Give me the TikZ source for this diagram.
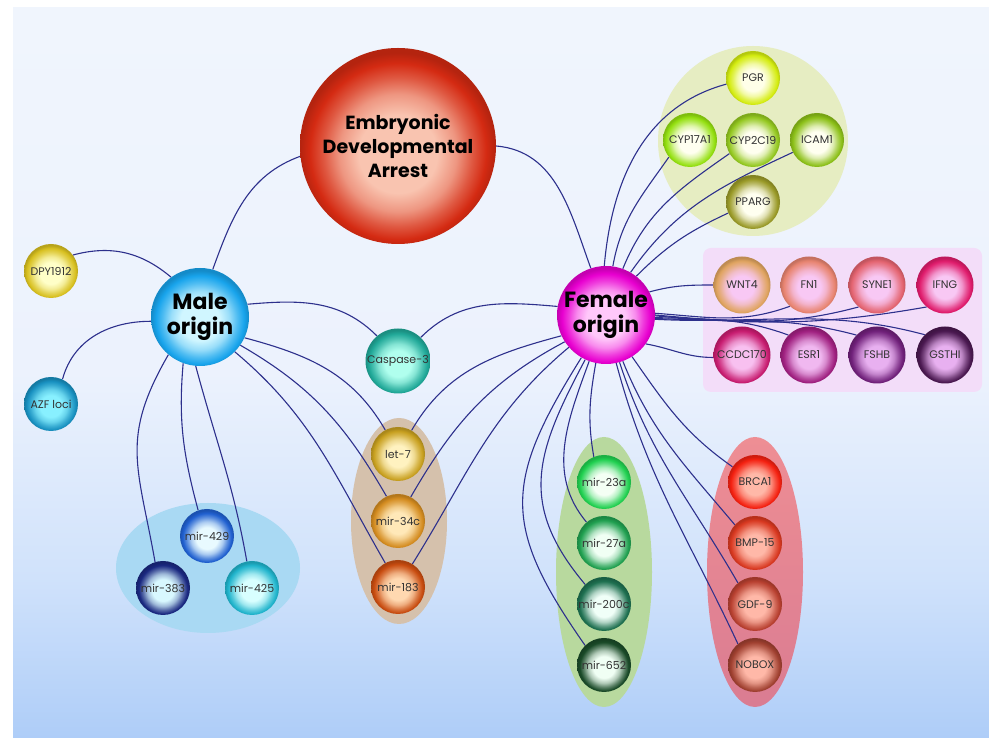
\documentclass[tikz,border=0pt]{standalone}
\usepackage{fontspec}
\setmainfont{Poppins}
\usepackage{xcolor}
\usepackage{tikz}
\usetikzlibrary{shapes.geometric}

\pgfdeclarelayer{back}
\pgfdeclarelayer{links}
\pgfsetlayers{back,links,main}

\definecolor{ballin}{HTML}{FFFFFF}
\definecolor{ballout}{HTML}{000000}
\definecolor{paneltop}{HTML}{F0F5FD}
\definecolor{panelmid}{HTML}{ECF2FD}
\definecolor{panellow}{HTML}{D0E2FB}
\definecolor{panelbot}{HTML}{AECDF8}
% sphere shading, rebuilt from ballin and ballout every time it is used
\pgfdeclareradialshading[ballin,ballout]{sphere}{\pgfpoint{0bp}{-2.5bp}}{%
    color(0bp)=(ballin); color(10bp)=(ballin); color(15bp)=(ballin!70!ballout);
    color(19bp)=(ballin!30!ballout); color(22.5bp)=(ballout); color(25bp)=(ballout!85!black);
    color(50bp)=(ballout!85!black)}
% background of the panel
\pgfdeclareverticalshading{panel}{100bp}{%
    color(0bp)=(panelbot); color(25bp)=(panelbot); color(36bp)=(panellow);
    color(50bp)=(panelmid); color(75bp)=(paneltop); color(100bp)=(paneltop)}

\begin{document}
\begin{tikzpicture}[
    % GLOBAL CFG
    x=1pt, y=1pt,
    font=\fontsize{11}{13}\selectfont,
    % Styles
    bin/.code={\definecolor{ballin}{HTML}{#1}},% centre colour of a sphere
    bout/.code={\definecolor{ballout}{HTML}{#1}},% rim colour of a sphere
    ball/.style={% For the shaded spheres
        circle,
        minimum size=54pt,
        inner sep=0pt,
        text=black!80,
        shading=sphere,
        },
    hub/.style={% For the two origins
        minimum size=98pt,
        align=center,
        text=black,
        font=\bfseries\fontsize{22}{25}\selectfont,
        },
    group/.style={% For the coloured areas behind the spheres
        inner sep=0pt,
        draw=none,
        },
    link/.style={% For the connectors
        draw={rgb,255:red,45;green,48;blue,140},
        line width=1.1pt,
        },
    ]

\useasboundingbox (0,0) rectangle (989,738);

%Start drawing the thing...
    \begin{pgfonlayer}{back}
    % Panel
    \node [group, rectangle, minimum width=976pt, minimum height=730pt, shading=panel] (panel) at (501,365) {};

    % Areas named g#
    \node [group, circle, minimum size=190pt, fill={rgb,255:red,230;green,237;blue,194}] (g1) at (753,597) {}; % genes on top
    \node [group, rectangle, rounded corners=8pt, minimum width=279pt, minimum height=144pt,
        fill={rgb,255:red,243;green,221;blue,249}] (g2) at (842.5,418) {}; % gene rows
    \node [group, ellipse, minimum width=96pt, minimum height=206pt, fill={rgb,255:red,213;green,193;blue,172}] (g3) at (399,217) {}; % shared mirs
    \node [group, ellipse, minimum width=184pt, minimum height=130pt, fill={rgb,255:red,169;green,217;blue,243}] (g4) at (208,170) {}; % male mirs
    \node [group, ellipse, minimum width=96pt, minimum height=270pt, fill={rgb,255:red,184;green,217;blue,158}] (g5) at (604,166) {}; % female mirs
    \node [group, ellipse, minimum width=96pt, minimum height=270pt,
        top color={rgb,255:red,238;green,142;blue,148}, bottom color={rgb,255:red,218;green,124;blue,146}] (g6) at (755,166) {}; % female genes
    \end{pgfonlayer}

    % Draw main nodes
    \node [ball, bin=F9C4B0, bout=D42A12, minimum size=196pt, align=center, text=black,
        font=\bfseries\fontsize{19}{24}\selectfont] (eda) at (398,592) {Embryonic\\Developmental\\Arrest};
    \node [ball, bin=D0F6FF, bout=18A4EC, hub] (male) at (200,421) {Male\\origin};
    \node [ball, bin=FFC8FA, bout=E800D0, hub] (female) at (606,423) {Female\\origin};

    % Male side
    \node [ball, bin=FFFFC8, bout=D8C020] (dpy) at (51,467) {DPY1912};
    \node [ball, bin=88F0FF, bout=1890C0] (azf) at (51,334) {AZF loci};
    \node [ball, bin=E8FAFF, bout=2060D0] (mir429) at (207,202) {mir-429};
    \node [ball, bin=D8F8FF, bout=1A2880] (mir383) at (163,150) {mir-383};
    \node [ball, bin=D8FFFF, bout=20B4CC] (mir425) at (252,150) {mir-425};

    % Shared
    \node [ball, bin=B0FFEE, bout=20A898, minimum size=65pt] (casp) at (398,377) {Caspase-3};
    \node [ball, bin=FFF2C0, bout=C8A020] (let7) at (398,284) {let-7};
    \node [ball, bin=FFE8B8, bout=D48C20] (mir34c) at (398,217) {mir-34c};
    \node [ball, bin=FFD8B0, bout=C84C10] (mir183) at (398,151) {mir-183};

    % Female side, top
    \node [ball, bin=FFFFE8, bout=D4EC10] (pgr) at (753,660) {PGR};
    \node [ball, bin=FFFFF0, bout=94E010] (cyp17) at (690,598) {CYP17A1};
    \node [ball, bin=FFFFF0, bout=94C820] (cyp2c) at (753,598) {CYP2C19};
    \node [ball, bin=FFFFF0, bout=8CC018] (icam) at (817,598) {ICAM1};
    \node [ball, bin=FFFFF0, bout=9A9A28] (pparg) at (753,536) {PPARG};

    % Female side, rows
    \node [ball, bin=F8C8F4, bout=E0A460, minimum size=57pt] (wnt4) at (742,453) {WNT4};
    \node [ball, bin=F8C8F4, bout=E88470, minimum size=57pt] (fn1) at (809,453) {FN1};
    \node [ball, bin=F8C8F4, bout=E46470, minimum size=57pt] (syne1) at (877,453) {SYNE1};
    \node [ball, bin=F8C8F4, bout=E01C6C, minimum size=57pt] (ifng) at (945,453) {IFNG};
    \node [ball, bin=F8C0F0, bout=C81C70, minimum size=57pt] (ccdc) at (742,383) {CCDC170};
    \node [ball, bin=F0B8F0, bout=A02080, minimum size=57pt] (esr1) at (809,383) {ESR1};
    \node [ball, bin=E8B0F0, bout=70207A, minimum size=57pt] (fshb) at (877,383) {FSHB};
    \node [ball, bin=E8B0F0, bout=4A1850, minimum size=57pt] (gsthi) at (945,383) {GSTHI};

    % Female side, bottom
    \node [ball, bin=F4FFF4, bout=20D050] (mir23a) at (604,256) {mir-23a};
    \node [ball, bin=F0FFF4, bout=20A050] (mir27a) at (604,195) {mir-27a};
    \node [ball, bin=F0FFF8, bout=1E7050] (mir200c) at (604,134) {mir-200c};
    \node [ball, bin=F0FFF4, bout=1A4A28] (mir652) at (604,73) {mir-652};
    \node [ball, bin=FFB8A8, bout=F42010] (brca) at (755,256) {BRCA1};
    \node [ball, bin=FFB8A8, bout=D83820] (bmp) at (755,195) {BMP-15};
    \node [ball, bin=FFB8A8, bout=B84030] (gdf) at (755,134) {GDF-9};
    \node [ball, bin=FFB8A8, bout=A04030] (nobox) at (755,73) {NOBOX};

    % Start connecting all.
    \begin{pgfonlayer}{links}
    \draw [link] (male.75) to[out=70, in=200] (eda.186);
    \draw [link] (eda.0) to[out=-5, in=110] (female.108);

    % Male links
    \draw [link] (male.126) to[out=140, in=15] (dpy.36);
    \draw [link] (male.185) to[out=180, in=75] (azf.65);
    \draw [link] (male.15) to[out=5, in=135] (casp.130);
    \draw [link] (male.-25) to[out=-15, in=120] (let7.118);
    \draw [link] (male.-35) to[out=-30, in=120] (mir34c.115);
    \draw [link] (male.-45) to[out=-40, in=120] (mir183.118);
    \draw [link] (male.230) to[out=240, in=100, looseness=1.2] (mir383.107);
    \draw [link] (male.250) to[out=265, in=105] (mir429.109);
    \draw [link] (male.265) to[out=285, in=100] (mir425.101);

    % Female links
    \draw [link] (female.170) to[out=175, in=45] (casp.46);
    \draw [link] (female.205) to[out=195, in=60] (let7.60);
    \draw [link] (female.213) to[out=208, in=60] (mir34c.62);
    \draw [link] (female.221) to[out=220, in=58] (mir183.58);
    \draw [link] (female.92) to[out=85, in=195] (pgr.193);
    \draw [link] (female.82) to[out=80, in=235] (cyp17.219);
    \draw [link] (female.70) to[out=68, in=215] (cyp2c.210);
    \draw [link] (female.60) to[out=55, in=205] (icam.207);
    \draw [link] (female.52) to[out=45, in=205] (pparg.204);
    \draw [link] (female.28) to[out=15, in=180] (wnt4.180);
    \draw [link] (female.-36) to[out=-10, in=180] (ccdc.185);
    \draw [link] (female.2) to[out=-4, in=200] (fn1.228);
    \draw [link] (female.0) to[out=-5, in=195] (syne1.230);
    \draw [link] (female.-1) to[out=-5, in=190] (ifng.230);
    \draw [link] (female.-3) to[out=-2, in=160] (esr1.136);
    \draw [link] (female.-4) to[out=-3, in=165] (fshb.136);
    \draw [link] (female.-5) to[out=-3, in=165] (gsthi.135);
    \draw [link] (female.258) to[out=260, in=100] (mir23a.112);
    \draw [link] (female.250) to[out=250, in=130] (mir27a.130);
    \draw [link] (female.245) to[out=242, in=130, looseness=1.2] (mir200c.134);
    \draw [link] (female.240) to[out=238, in=125, looseness=1.3] (mir652.134);
    \draw [link] (female.302) to[out=-55, in=145] (brca.146);
    \draw [link] (female.290) to[out=-68, in=130] (bmp.138);
    \draw [link] (female.286) to[out=-72, in=120] (gdf.129);
    \draw [link] (female.282) to[out=-75, in=115] (nobox.129);
    \end{pgfonlayer}

\end{tikzpicture}
\end{document}
